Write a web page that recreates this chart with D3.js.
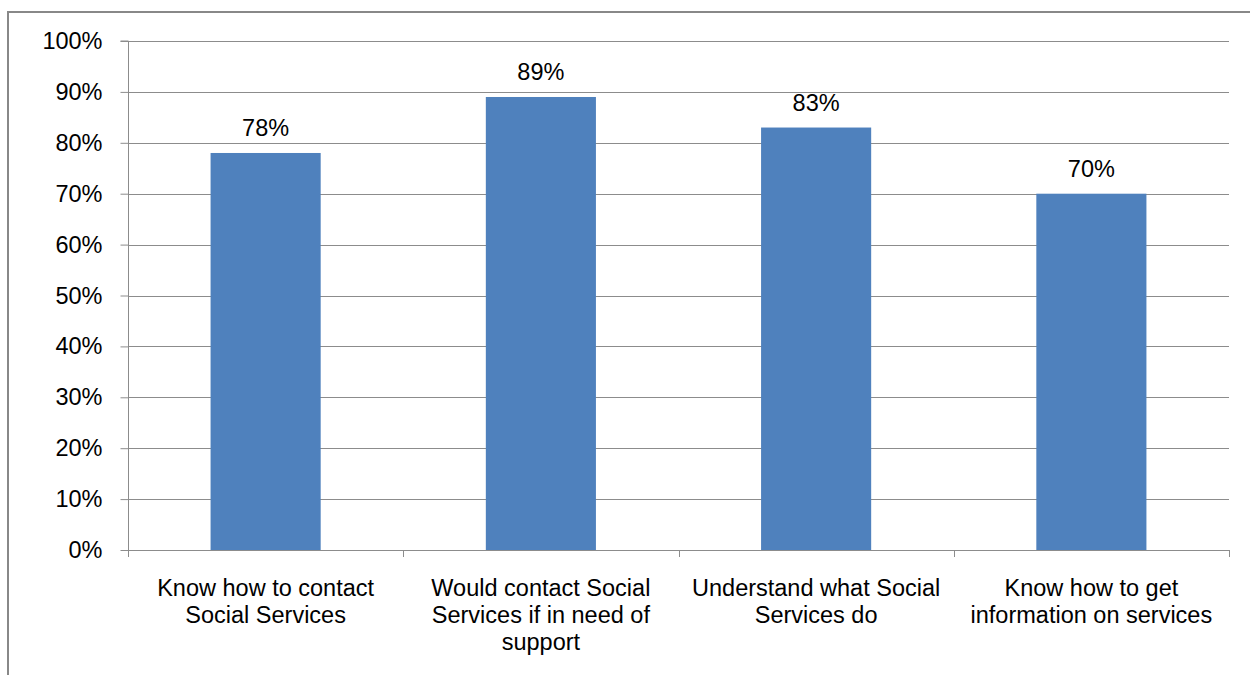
<!DOCTYPE html>
<html><head><meta charset="utf-8">
<script src="https://cdn.jsdelivr.net/npm/d3@7"></script>
<style>body{margin:0;background:#fff}svg{display:block}text{font-family:"Liberation Sans",Arial,sans-serif;fill:#000}</style>
</head><body>
<script>
const categories = ["Know how to contact\nSocial Services","Would contact Social\nServices if in need of\nsupport","Understand what Social\nServices do","Know how to get\ninformation on services"];
const values = [78, 89, 83, 70];
const yTicks = [0,10,20,30,40,50,60,70,80,90,100];
const W = 1250, H = 675, FS = "23.5px";
const svg = d3.select("body").append("svg").attr("width", W).attr("height", H);
// frame
svg.append("line").attr("x1",8).attr("x2",8).attr("y1",12).attr("y2",H).attr("stroke","#888").attr("stroke-width",2);
svg.append("line").attr("x1",7).attr("x2",W).attr("y1",12).attr("y2",12).attr("stroke","#888").attr("stroke-width",2);
const L = 128, R = 1229, T = 41, B = 550;
const x = d3.scaleBand().domain(categories).range([L, R]).padding(0);
const y = d3.scaleLinear().domain([0, 100]).range([B, T]);
// gridlines
svg.append("g").selectAll("line").data(yTicks.filter(d=>d>0)).join("line")
  .attr("x1", L).attr("x2", R).attr("y1", d=>Math.round(y(d))+0.5).attr("y2", d=>Math.round(y(d))+0.5)
  .attr("stroke","#8c8c8c").attr("stroke-width",1);
// bars
const bw = x.bandwidth()*0.4;
svg.append("g").selectAll("rect").data(values).join("rect")
  .attr("x",(d,i)=>x(categories[i])+x.bandwidth()/2-bw/2).attr("width",bw)
  .attr("y",d=>y(d)).attr("height",d=>B-y(d)).attr("fill","#4F81BD");
// data labels
svg.append("g").selectAll("text").data(values).join("text")
  .attr("x",(d,i)=>x(categories[i])+x.bandwidth()/2).attr("y",d=>y(d)-17)
  .attr("text-anchor","middle").style("font-size",FS).text(d=>d+"%");
// y axis
const ya = svg.append("g").attr("transform",`translate(${L+0.5},0)`)
  .call(d3.axisLeft(y).tickValues(yTicks).tickFormat(d=>d+"%").tickSize(8).tickPadding(18));
ya.select(".domain").attr("stroke","#8c8c8c").attr("d",`M-8,${T}H0V${B}`);
ya.selectAll(".tick line").attr("stroke","#8c8c8c");
ya.selectAll(".tick text").style("font-size",FS).attr("fill","#000").style("font-family",'"Liberation Sans",Arial,sans-serif');
// x axis
const xa = svg.append("g").attr("transform",`translate(0,${B+0.5})`)
  .call(d3.axisBottom(x).tickSize(0).tickFormat(""));
xa.select(".domain").attr("stroke","#8c8c8c").attr("d",`M${L},0H${R}`);
xa.selectAll(".tick").remove();
const edges = categories.map(c=>x(c)).concat([R]);
svg.append("g").selectAll("line").data(edges).join("line")
  .attr("x1",d=>Math.round(d)+0.5).attr("x2",d=>Math.round(d)+0.5).attr("y1",B).attr("y2",B+7).attr("stroke","#8c8c8c");
// category labels
categories.forEach((c,i)=>{
  const t = svg.append("text").attr("text-anchor","middle").style("font-size",FS)
    .attr("x", x(c)+x.bandwidth()/2).attr("y", 596);
  c.split("\n").forEach((ln,j)=>t.append("tspan").attr("x", x(c)+x.bandwidth()/2).attr("dy", j?27:0).text(ln));
});
</script>
</body></html>
